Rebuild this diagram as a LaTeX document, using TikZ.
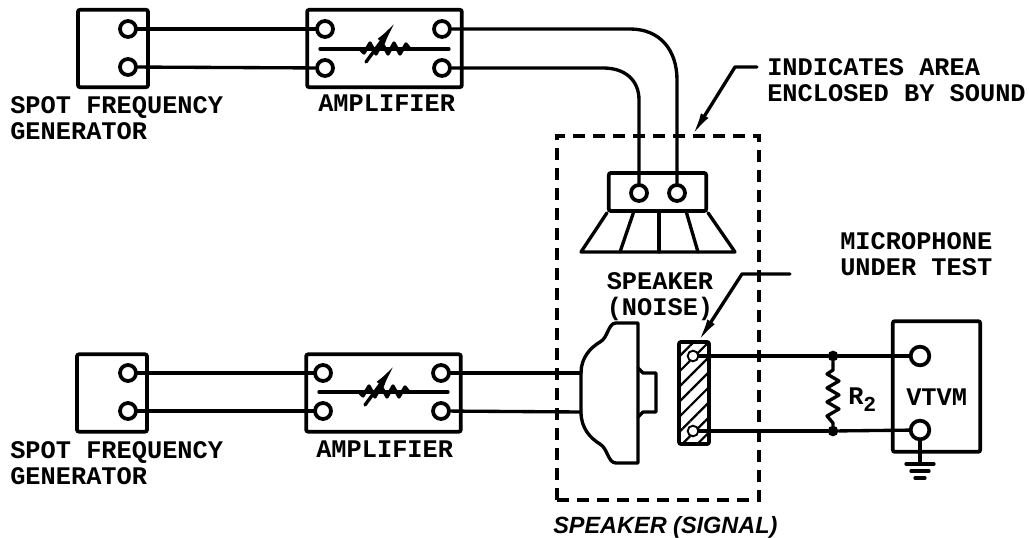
\documentclass[tikz,border=0pt]{standalone}
\usepackage{fontspec}
\usepackage{tikz}
\usetikzlibrary{arrows.meta,patterns.meta}
\setmainfont{Liberation Sans}
\newfontfamily\platefont{Liberation Mono Bold}

\tikzset{
	wire/.style={line width=2.5pt, line cap=round, line join=round},
	unit/.style={shape=rectangle, draw=black, line width=2.8pt, rounded corners=1.5pt, inner sep=0pt},
	term/.style={shape=circle, draw=black, fill=white, line width=2.8pt, inner sep=0pt, minimum size=12pt},
	dot/.style={shape=circle, fill=black, inner sep=0pt, minimum size=8pt},
	lbl/.style={font=\platefont\fontsize{19}{19.5}\selectfont, align=left, anchor=north west, inner sep=0pt},
	leader/.style={wire, -{Latex[length=18pt,width=6.5pt]}},
	varres/.pic={
		\draw[wire] (-24,0) -- (-20,4) -- (-14,-6) -- (-8,5) -- (-2,-6) -- (4,5) -- (10,-6) -- (16,5) -- (22,-5) -- (26,0);
		\draw[wire, -{Latex[length=20pt,width=6.5pt]}] (-18,13) -- (13,-29);
	}
}

\begin{document}
\begin{tikzpicture}[x=0.75pt,y=-0.75pt]
	\useasboundingbox (0,0) rectangle (1029,538);

	% sound area
	\node[shape=rectangle,draw=black,line width=2.4pt,dash pattern=on 9pt off 6pt,minimum width=151.5pt,minimum height=273pt,inner sep=0pt] (area) at (658, 318) {};

	% top row
	\node[unit,minimum width=52.5pt,minimum height=58pt] (gen1) at (113, 48.5) {};
	\node[term] (g1a) at (128, 29) {};
	\node[term] (g1b) at (128, 67) {};
	\node[unit,minimum width=116pt,minimum height=58pt] (amp1) at (384.5, 48.5) {};
	\node[term] (a1a) at (325, 29) {};
	\node[term] (a1b) at (325, 68) {};
	\node[term] (a1c) at (442, 29) {};
	\node[term] (a1d) at (442, 68) {};
	\coordinate (a1l) at (320, 49);
	\coordinate (a1r) at (449, 49);
	\coordinate (a1m) at (384, 49);

	% speaker (noise)
	\node[unit,minimum width=73pt,minimum height=28.5pt] (spk) at (657.5, 192) {};
	\node[term] (s1) at (639, 193) {};
	\node[term] (s2) at (677, 193) {};
	\coordinate (hl) at (581, 252);
	\coordinate (hr) at (735, 252);

	% bottom row
	\node[unit,minimum width=52.5pt,minimum height=58pt] (gen2) at (112, 393) {};
	\node[term] (g2a) at (128, 373) {};
	\node[term] (g2b) at (128, 411) {};
	\node[unit,minimum width=116pt,minimum height=58pt] (amp2) at (383.5, 393) {};
	\node[term] (a2a) at (323, 373) {};
	\node[term] (a2b) at (323, 411) {};
	\node[term] (a2c) at (441, 373) {};
	\node[term] (a2d) at (441, 411) {};
	\coordinate (a2l) at (319, 392);
	\coordinate (a2r) at (448, 392);
	\coordinate (a2m) at (383, 392);

	% speaker (signal)
	\coordinate (sa) at (581, 373);
	\coordinate (sb) at (581, 412);
	\draw[wire] (638,323) -- (616,323) .. controls (608,323) and (608,338) .. (600,342) .. controls (590,348) and (581,358) .. (sa) -- (sb) .. controls (581,428) and (590,438) .. (600,444) .. controls (608,449) and (608,463) .. (616,463) -- (638,463) -- cycle;
	\draw[wire] (638,368) -- (643,373) -- (656,373) -- (656,412) -- (643,412) -- (638,417);

	% microphone
	\node[unit,pattern={Lines[angle=45,distance=8pt,line width=1.7pt]},minimum width=22.5pt,minimum height=76.5pt] (mic) at (694, 393) {};
	\node[shape=circle,draw=black,fill=white,line width=1.4pt,inner sep=0pt,minimum size=8pt] (m1) at (693, 356) {};
	\node[shape=circle,draw=black,fill=white,line width=1.4pt,inner sep=0pt,minimum size=8pt] (m2) at (693, 431) {};
	\node[dot] (d1) at (833, 356) {};
	\node[dot] (d2) at (833, 431) {};
	\coordinate (r1) at (833, 370);
	\coordinate (r2) at (833, 423);

	% vtvm
	\node[unit,minimum width=65.5pt,minimum height=98pt] (vtvm) at (936.5, 386.5) {};
	\node[term,minimum size=14pt] (v1) at (920, 356) {};
	\node[term,minimum size=14pt] (v2) at (920, 430) {};
	\coordinate (gnd) at (920, 464);

	% leaders
	\coordinate (ld1) at (757, 67);
	\coordinate (ld2) at (735, 67);
	\coordinate (ld3) at (692, 136);
	\coordinate (ld4) at (790, 274);
	\coordinate (ld5) at (742, 274);
	\coordinate (ld6) at (698, 342);

	% labels
	\node[lbl] (t1) at (10, 96) {SPOT FREQUENCY\\GENERATOR};
	\node[lbl] (t2) at (318, 95) {AMPLIFIER};
	\node[lbl] (t3) at (767, 58) {INDICATES AREA\\ENCLOSED BY SOUND};
	\node[lbl,align=center,anchor=north] (t4) at (660, 272) {SPEAKER\\(NOISE)};
	\node[lbl] (t5) at (840, 232) {MICROPHONE\\UNDER TEST};
	\node[lbl] (t6) at (10, 441) {SPOT FREQUENCY\\GENERATOR};
	\node[lbl] (t7) at (316, 441) {AMPLIFIER};
	\node[lbl] (t8) at (906, 389) {VTVM};
	\node[lbl] (t9) at (848, 388) {R\raisebox{-5pt}{\fontsize{16}{16}\selectfont 2}};
	\node[font=\bfseries\itshape\fontsize{17.6}{19}\selectfont,anchor=west,inner sep=0pt] (t10) at (553, 527) {SPEAKER (SIGNAL)};

	\path[-, wire] (g1a) edge (a1a);
	\path[-, wire] (g1b) edge (a1b);
	\path[-, wire] (g2a) edge (a2a);
	\path[-, wire] (g2b) edge (a2b);
	\path[-, wire] (a2c) edge (sa);
	\path[-, wire] (a2d) edge (sb);
	\path[-, wire] (a1l) edge (a1r);
	\path[-, wire] (a2l) edge (a2r);
	\draw[wire] (a1c) -- (630,29) .. controls (660,29) and (677,50) .. (677,80) -- (s2);
	\draw[wire] (a1d) -- (603,68) .. controls (625,68) and (639,80) .. (639,100) -- (s1);
	\pic at (a1m) {varres};
	\pic at (a2m) {varres};

	\draw[wire] (spk.south west) -- (hl) -- (hr) -- (spk.south east);
	\draw[wire] (634,211) -- (620,252);
	\draw[wire] (659,211) -- (659,252);
	\draw[wire] (686,211) -- (698,252);

	\path[-, wire] (m1) edge (d1);
	\path[-, wire] (d1) edge (v1);
	\path[-, wire] (m2) edge (d2);
	\path[-, wire] (d2) edge (v2);
	\draw[wire] (d1) -- (r1) -- (827,374) -- (839,381) -- (827,388) -- (839,395) -- (827,402) -- (839,409) -- (827,416) -- (r2) -- (d2);

	\path[-, wire] (v2) edge (gnd);
	\draw[wire] (906,464) -- (934,464);
	\draw[wire] (911,471) -- (929,471);
	\draw[wire] (915,478) -- (925,478);

	\draw[leader] (ld1) -- (ld2) -- (ld3);
	\draw[leader] (ld4) -- (ld5) -- (ld6);
\end{tikzpicture}
\end{document}
